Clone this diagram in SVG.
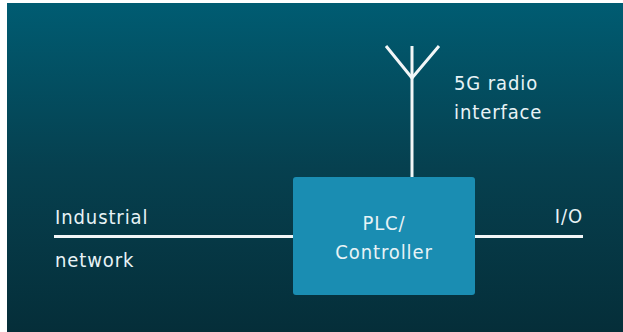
<svg xmlns="http://www.w3.org/2000/svg" width="623" height="332" viewBox="0 0 623 332">
  <defs>
    <linearGradient id="bg" x1="0" y1="0" x2="0" y2="1">
      <stop offset="0" stop-color="#005c72"/>
      <stop offset="0.5" stop-color="#06404f"/>
      <stop offset="1" stop-color="#052e39"/>
    </linearGradient>
    <style>
      .lbl { font-family: "DejaVu Sans Condensed", "DejaVu Sans", "Liberation Sans", sans-serif; font-stretch: condensed; font-size: 20px; fill: #e8f3f6; letter-spacing: 0.9px; }
      .wire { stroke: #f2f6f7; stroke-width: 3; fill: none; stroke-linecap: butt; }
    </style>
  </defs>
  <rect x="0" y="0" width="623" height="332" fill="#ffffff"/>
  <rect x="7" y="3" width="616" height="329" fill="url(#bg)"/>

  <g id="connectors">
    <line class="wire" x1="54" y1="236.5" x2="293" y2="236.5"/>
    <line class="wire" x1="475" y1="236.5" x2="583" y2="236.5"/>
    <line class="wire" x1="412" y1="46" x2="412" y2="177"/>
  </g>

  <g id="antenna">
    <polyline class="wire" points="386,46 412,78 439,46" stroke-linejoin="round"/>
    <text class="lbl" x="454" y="90">5G radio</text>
    <text class="lbl" x="454" y="119">interface</text>
  </g>

  <g id="plc">
    <rect x="293" y="177" width="182" height="118" rx="3" fill="#1a8db2"/>
    <text class="lbl" x="384" y="230" text-anchor="middle">PLC/</text>
    <text class="lbl" x="384" y="259" text-anchor="middle">Controller</text>
  </g>

  <g id="industrial-network">
    <text class="lbl" x="55" y="224">Industrial</text>
    <text class="lbl" x="55" y="267">network</text>
  </g>

  <g id="io">
    <text class="lbl" x="583" y="223" text-anchor="end">I/O</text>
  </g>
</svg>
